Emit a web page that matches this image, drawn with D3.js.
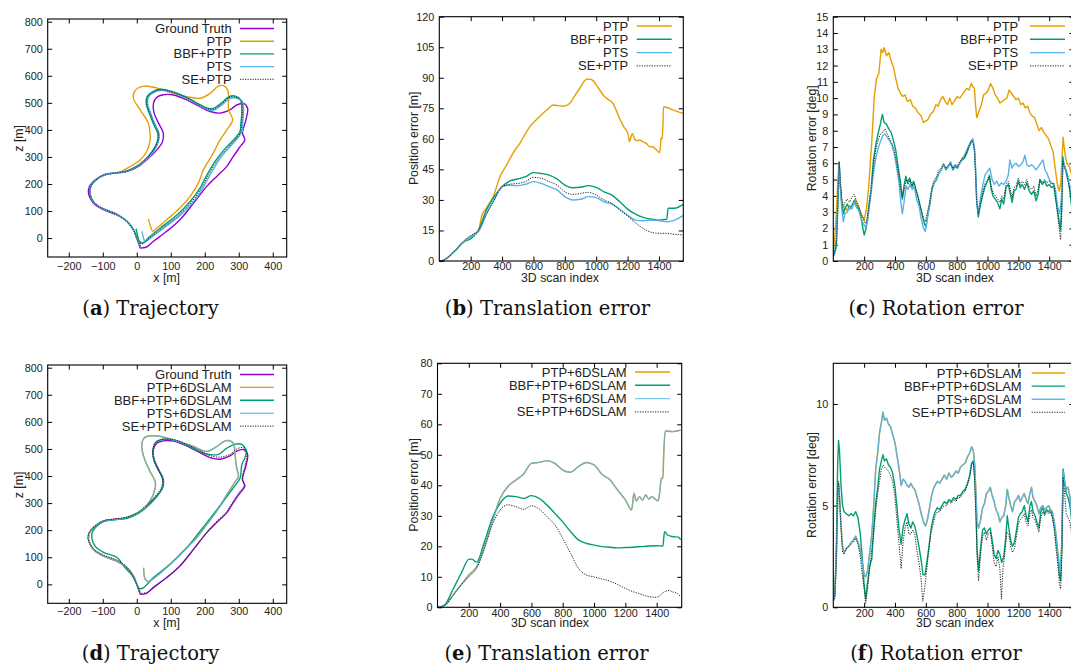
<!DOCTYPE html>
<html>
<head>
<meta charset="utf-8">
<script src="https://cdn.jsdelivr.net/npm/d3@7"></script>
<style>
  body { margin: 0; background: #fff; }
  svg { display: block; }
  .tick text { font-family: "Liberation Sans", Arial, sans-serif; font-size: 10.8px; fill: #222; }
  .tick line { stroke: #000; stroke-width: 1; }
  .lbl { font-family: "Liberation Sans", Arial, sans-serif; font-size: 12.3px; fill: #222; }
  .leg { font-family: "Liberation Sans", Arial, sans-serif; font-size: 13px; fill: #222; }
  .cap { font-family: "DejaVu Serif", serif; font-size: 19.5px; fill: #111; }
</style>
</head>
<body>
<script>
var width = 1071
var height = 668

// colours (gnuplot default palette)
var cGT = "#9400d3", cPTP = "#e69f00", cBBF = "#009e73", cPTS = "#56b4e9", cSE = "#222"

// ---- trajectory (x, z) in metres ----
var gtTraj = [[10,-37],[0,0],[-10,31],[-29,62],[-59,86],[-98,105],[-127,129],[-142,166],[-139,191],[-123,215],[-98,234],[-69,240],[-29,246],[5,265],[29,289],[59,326],[76,357],[78,388],[64,425],[51,462],[49,498],[59,521],[78,530],[108,529],[147,511],[186,486],[216,468],[245,462],[274,474],[294,492],[314,498],[326,480],[321,437],[311,388],[318,363],[304,338],[284,302],[265,265],[235,228],[206,191],[167,129],[127,68],[88,25],[49,-12],[29,-33],[10,-37]]
var ptpTraj = [[10,-30],[0,0],[-10,31],[-29,62],[-59,88],[-98,108],[-125,130],[-138,166],[-135,192],[-120,215],[-96,233],[-69,240],[-49,245],[-29,258],[10,289],[29,320],[39,360],[39,388],[34,425],[10,474],[-10,517],[-5,545],[20,562],[59,555],[98,538],[147,523],[186,517],[216,535],[240,562],[258,562],[268,545],[270,523],[270,474],[282,437],[265,400],[245,363],[225,314],[196,252],[181,203],[157,154],[127,111],[88,68],[59,37],[47,25],[40,45],[34,71]]
var bbfTraj = [[10,-30],[0,0],[-10,31],[-29,62],[-59,88],[-98,108],[-125,130],[-138,166],[-135,192],[-120,215],[-96,233],[-69,240],[-35,246],[-5,262],[20,285],[45,320],[60,355],[62,385],[50,420],[38,458],[28,495],[30,522],[45,540],[70,550],[108,540],[147,520],[186,493],[220,478],[250,500],[270,522],[290,525],[305,512],[309,470],[306,420],[304,395],[290,370],[265,338],[235,292],[206,233],[186,185],[157,135],[118,85],[69,37],[35,2],[18,-18],[8,-12],[3,5],[-2,35]]
var ptsTraj = [[10,-30],[0,0],[-10,31],[-29,62],[-59,88],[-98,108],[-125,130],[-138,166],[-135,192],[-120,215],[-96,233],[-69,240],[-35,245],[-4,260],[22,283],[48,318],[63,353],[66,385],[54,420],[42,458],[32,495],[34,520],[48,537],[72,546],[108,537],[147,516],[186,489],[222,472],[252,494],[272,515],[292,518],[310,505],[314,465],[311,420],[310,395],[297,370],[272,335],[243,290],[214,230],[194,183],[165,132],[126,82],[78,36],[40,0],[24,-14],[20,0],[15,25]]
var seTraj = [[10,-30],[0,0],[-10,31],[-29,62],[-59,88],[-98,108],[-125,130],[-138,166],[-135,192],[-120,215],[-96,233],[-69,240],[-35,246],[-4,261],[21,284],[46,319],[61,354],[64,385],[52,420],[40,458],[30,495],[32,521],[46,539],[71,548],[108,538],[147,518],[186,491],[221,475],[251,497],[271,519],[291,521],[307,509],[311,467],[308,420],[307,395],[294,370],[269,336],[239,291],[210,231],[190,184],[161,133],[122,83],[74,36],[38,0],[22,-18],[12,-22],[10,-15]]

// trajectories with 6DSLAM
var ptsSlamTraj = [[10,-37],[0,0],[-10,31],[-29,62],[-59,86],[-98,105],[-127,129],[-142,166],[-139,191],[-123,215],[-98,234],[-59,239],[-20,252],[10,270],[39,307],[54,356],[54,380],[39,417],[22,466],[15,503],[18,534],[29,546],[59,548],[108,534],[167,509],[206,491],[235,509],[265,531],[284,521],[289,479],[294,429],[299,399],[284,368],[265,331],[235,270],[206,221],[176,172],[137,123],[98,74],[59,31],[34,10],[25,18],[20,61]]
var ptpSlamTraj = ptsSlamTraj
var bbfSlamTraj = [[10,-30],[0,0],[-15,35],[-35,62],[-59,100],[-98,118],[-122,140],[-132,170],[-130,195],[-118,215],[-98,232],[-59,240],[-29,244],[5,262],[35,292],[62,330],[76,360],[76,390],[62,425],[50,462],[48,498],[56,525],[78,536],[108,533],[147,514],[186,490],[216,479],[240,480],[265,503],[290,518],[310,516],[322,495],[319,470],[309,442],[304,393],[284,356],[255,307],[225,258],[186,196],[147,135],[98,74],[49,25],[20,-12],[10,-16],[5,-12]]
var seSlamTraj = [[10,-35],[0,0],[-12,32],[-30,64],[-59,90],[-98,108],[-128,132],[-143,168],[-140,192],[-122,216],[-96,235],[-65,242],[-29,248],[3,266],[28,292],[57,330],[73,360],[75,390],[62,426],[49,462],[47,500],[57,525],[78,536],[108,534],[147,517],[186,493],[216,475],[245,470],[274,480],[294,500],[316,505],[324,485],[319,440],[310,390],[315,365],[300,338],[280,300],[262,265],[232,228],[204,190],[165,128],[126,68],[88,25],[49,-10],[29,-30],[12,-33]]

// ---- translation error [m] vs scan index ----
var posPTP = [[0,0],[25,0.3],[50,1.5],[100,5],[150,9],[200,12],[250,15],[270,22],[300,26],[343,31.6],[390,42],[428,47],[470,53],[513,57.8],[577,66],[640,71],[690,74.5],[725,76.6],[760,76.3],[789,76],[831,77.4],[870,82],[895,84.8],[920,88],[941,89.4],[965,89.2],[980,88.6],[1000,86.5],[1022,84],[1050,81],[1075,79.4],[1107,77.4],[1130,73.5],[1149,70],[1175,66],[1202,62.7],[1213,58.6],[1222,61],[1230,62.7],[1245,59.8],[1260,59],[1276,59.4],[1300,58.5],[1319,57.8],[1340,56.2],[1361,56],[1382,54.8],[1404,53.2],[1410,57],[1414,60.6],[1420,60],[1425,66],[1429,75.8],[1446,75.5],[1489,74.2],[1553,72.5]]
var posBBF = [[0,0],[25,0.3],[50,1.5],[100,5],[150,9],[200,11],[250,15.2],[300,25],[350,31.6],[400,36.5],[450,39.3],[500,40.3],[550,41.4],[600,43.4],[650,43],[700,42.2],[750,40.3],[800,37.3],[850,36],[900,36.2],[950,37],[1000,36.2],[1050,34],[1100,32.4],[1150,29.1],[1200,25.5],[1250,23],[1300,21.4],[1350,20.5],[1400,20.1],[1450,20.5],[1458,25.9],[1500,25.9],[1553,27.8]]
var posPTS = [[0,0],[25,0.3],[50,1.5],[100,5],[150,9],[200,12],[250,14.5],[300,23],[350,30],[400,36.5],[450,37.2],[500,37],[550,37.7],[600,39],[650,38.1],[700,36.5],[750,34.9],[800,31.6],[850,30],[900,30.3],[950,31.6],[1000,31.1],[1050,29.1],[1100,28],[1150,25.4],[1200,22.6],[1250,20.1],[1300,19.8],[1350,20.1],[1400,19.8],[1450,19.3],[1500,20.1],[1553,22.3]]
var posSE = [[0,0],[25,0.3],[50,1.5],[100,5],[150,9.5],[200,12.5],[250,15],[300,23],[350,30],[400,36.5],[450,37.7],[500,38.1],[550,39],[600,41.1],[650,40.6],[700,39],[750,37.3],[800,34],[850,32.7],[900,33.2],[950,33.7],[1000,32.4],[1050,30],[1100,28.3],[1150,25],[1200,22.1],[1250,18.8],[1300,16],[1350,14.1],[1400,13.6],[1450,13.6],[1500,13.1],[1553,12.8]]

// with 6DSLAM
var posPTSslam = [[0,0],[25,0.2],[50,0.8],[100,4],[150,7.3],[200,10.6],[250,13.3],[300,19.9],[350,28],[400,35.7],[450,39.6],[500,41.7],[550,43.7],[600,47.2],[650,47.5],[700,48.1],[750,47.2],[800,45],[850,44.3],[900,46.1],[950,47.5],[1000,46.7],[1050,43.6],[1100,41.9],[1150,38.5],[1200,35.2],[1240,31.9],[1255,37.4],[1270,34.9],[1290,36.3],[1310,35.2],[1330,36.8],[1350,35.5],[1370,36.3],[1390,35.5],[1410,34.9],[1420,37.9],[1430,42.3],[1440,42.3],[1445,50],[1455,57.8],[1500,57.6],[1553,58.1]]
var posPTPslam = posPTSslam
var posBBFslam = [[0,0],[25,0.2],[50,1],[100,6],[150,11],[200,15.7],[220,15.8],[250,14.8],[300,21.5],[350,29.2],[400,34.1],[450,36.5],[500,36.3],[550,35.7],[600,36.6],[650,35.7],[700,33.5],[750,30.8],[800,28],[850,24.8],[900,22.1],[950,21],[1000,20.4],[1050,19.9],[1100,19.7],[1150,19.5],[1200,19.6],[1250,19.7],[1300,19.9],[1350,20.1],[1400,20.2],[1440,20.1],[1450,24.8],[1470,23.7],[1500,23.2],[1540,23],[1553,22.1]]
var posSEslam = [[0,0],[25,0.2],[50,0.8],[100,4],[150,7.3],[200,10],[250,12.8],[300,19.3],[350,27],[400,31.9],[450,33.6],[500,33],[550,32.1],[600,33.3],[650,32.2],[700,29.7],[750,27],[800,22.6],[850,17.7],[900,12.8],[950,10.6],[1000,10],[1050,9.3],[1100,8.6],[1150,7.5],[1200,6.2],[1250,5.1],[1300,4.3],[1350,3.5],[1400,3.3],[1450,5.1],[1480,5.5],[1500,5.1],[1530,4.6],[1553,3.5]]

// ---- rotation error [deg] vs scan index ----
var rotPTP = [[0,0.5],[10,1.5],[20,3],[30,5],[38,6.1],[45,4.8],[55,3.5],[65,2.9],[75,3.3],[90,3.1],[105,3.4],[120,3.2],[140,3.8],[160,3.4],[180,2.9],[200,2.5],[215,3.2],[230,4.6],[250,7.4],[265,10],[280,11.2],[295,11.5],[310,13.0],[320,12.8],[330,13.1],[345,12.6],[360,12.8],[375,12.3],[390,11.9],[405,11.2],[420,10.6],[435,10.3],[450,10.1],[465,10.2],[480,9.8],[500,9.9],[515,9.5],[530,9.4],[550,9.1],[570,8.9],[585,8.5],[600,8.6],[615,8.7],[630,9.0],[650,9.2],[665,9.6],[680,9.5],[695,9.9],[710,10.1],[725,9.8],[740,9.6],[755,10],[770,9.6],[790,9.9],[805,10.1],[820,10.0],[835,10.2],[850,10.4],[865,10.6],[880,10.5],[895,10.9],[905,10.7],[915,10.6],[922,9.6],[930,8.8],[945,9.2],[960,9.6],[975,10.2],[990,10.3],[1005,10.5],[1020,10.9],[1035,10.6],[1050,10.2],[1065,10.0],[1080,9.7],[1095,9.8],[1110,9.9],[1125,10.0],[1140,10.5],[1155,10.3],[1170,10.1],[1185,9.9],[1200,10.0],[1215,9.6],[1230,9.7],[1245,9.4],[1260,9.5],[1275,9.1],[1290,8.9],[1305,8.8],[1320,8.4],[1335,8.0],[1350,8.2],[1365,7.9],[1380,7.7],[1395,7.5],[1410,7.1],[1425,6.7],[1440,5.6],[1455,4.6],[1465,4.3],[1475,4.8],[1483,6.2],[1490,7.6],[1497,7.0],[1505,6.4],[1515,6.0],[1530,5.8],[1545,5.3],[1555,5.0]]
var rotBBF = [[0,0.3],[10,0.5],[20,0.9],[30,3.5],[38,6.0],[45,4.8],[55,3.6],[65,2.9],[75,3.2],[90,3.5],[105,3.2],[120,3.4],[135,3.7],[150,3.4],[165,3.2],[180,2.7],[192,2.0],[200,1.6],[210,1.9],[220,2.5],[232,3.5],[245,4.4],[260,6.2],[275,7.1],[290,7.8],[305,8.4],[318,9.0],[330,8.5],[345,8.4],[360,8.1],[375,7.9],[390,7.4],[405,6.8],[420,5.8],[435,4.9],[448,3.8],[458,4.6],[470,5.2],[482,4.8],[495,5.1],[508,4.5],[520,4.9],[535,4.4],[548,4.0],[560,3.5],[575,2.9],[590,2.3],[600,2.1],[612,2.8],[625,3.4],[640,4.4],[655,4.8],[670,5.0],[685,5.4],[700,5.6],[715,5.9],[730,5.6],[745,5.8],[760,6.0],[775,5.6],[790,5.8],[805,5.7],[820,6.0],[835,6.2],[850,6.3],[865,6.6],[880,7.0],[895,7.3],[905,7.4],[915,6.9],[922,5.6],[930,3.7],[940,2.7],[955,3.5],[970,4.1],[985,4.6],[1000,4.9],[1012,5.2],[1022,4.5],[1035,4.0],[1050,3.8],[1065,3.6],[1080,3.2],[1092,3.8],[1105,3.5],[1120,4.5],[1135,4.7],[1148,4.1],[1160,3.6],[1172,4.3],[1185,4.4],[1200,4.9],[1212,4.5],[1225,4.7],[1240,4.4],[1255,4.8],[1270,4.3],[1285,4.1],[1300,4.3],[1315,3.7],[1328,4.1],[1340,5.0],[1355,4.7],[1370,4.9],[1385,4.6],[1400,4.7],[1415,4.5],[1430,4.6],[1442,3.8],[1455,3.0],[1465,2.4],[1472,1.9],[1480,3.2],[1488,6.4],[1496,5.9],[1508,5.6],[1520,5.2],[1535,4.2],[1548,3.1],[1555,2.8]]
var rotPTS = [[0,0.3],[10,0.6],[20,1.5],[30,4.0],[38,6.0],[45,4.6],[55,3.2],[65,2.4],[75,2.9],[90,3.0],[105,3.3],[120,3.2],[135,3.6],[150,3.3],[165,3.1],[180,2.6],[195,2.3],[208,2.1],[220,2.3],[232,3.2],[245,4.2],[260,5.4],[275,6.3],[290,6.9],[305,7.3],[320,7.7],[335,7.8],[350,7.6],[365,7.4],[380,7.1],[395,6.6],[410,5.8],[425,4.9],[438,3.6],[448,2.9],[460,3.7],[472,4.6],[485,4.4],[498,4.7],[512,4.4],[525,4.6],[540,3.8],[555,3.4],[570,2.6],[585,2.0],[597,1.8],[610,2.6],[625,3.6],[640,4.5],[655,4.8],[670,5.1],[685,5.4],[700,5.6],[715,5.9],[730,5.7],[745,5.8],[760,6.1],[775,5.7],[790,5.9],[805,5.8],[820,6.0],[835,6.3],[850,6.5],[865,6.8],[880,7.1],[895,7.4],[905,7.5],[915,7.0],[922,5.8],[930,3.5],[940,3.0],[955,3.9],[970,4.7],[985,5.3],[1000,5.5],[1015,5.7],[1030,5.0],[1045,4.7],[1060,4.9],[1075,4.6],[1090,4.8],[1105,4.7],[1120,4.9],[1135,5.3],[1145,6.2],[1158,5.7],[1170,5.9],[1185,6.0],[1200,5.8],[1215,5.9],[1230,6.1],[1242,6.5],[1255,5.9],[1270,5.8],[1285,5.9],[1300,5.8],[1315,5.6],[1330,5.8],[1345,6.0],[1360,6.2],[1372,5.6],[1385,5.4],[1400,5.0],[1415,4.8],[1430,4.7],[1442,4.3],[1455,3.3],[1468,2.9],[1478,3.8],[1488,5.7],[1496,6.0],[1508,5.5],[1520,5.0],[1535,4.6],[1548,4.4],[1555,4.2]]
var rotSE = [[0,0.3],[10,0.6],[20,1.2],[30,3.8],[38,6.1],[45,4.9],[55,3.8],[65,3.3],[75,3.6],[90,3.8],[105,3.6],[120,3.9],[135,4.1],[150,3.7],[165,3.4],[180,2.9],[195,2.6],[208,2.3],[220,2.6],[232,3.4],[245,4.3],[260,5.8],[275,6.8],[290,7.4],[305,7.8],[320,7.9],[335,8.1],[350,7.8],[365,7.5],[380,7.2],[395,6.8],[410,6.1],[425,5.2],[438,4.3],[448,3.9],[460,4.4],[472,5.0],[485,4.7],[498,5.0],[512,4.6],[525,4.8],[540,4.2],[555,3.7],[570,3.1],[585,2.6],[597,2.4],[610,3.0],[625,3.6],[640,4.5],[655,5.0],[670,5.2],[685,5.6],[700,5.7],[715,6.0],[730,5.7],[745,5.9],[760,6.0],[775,5.7],[790,5.9],[805,5.8],[820,6.1],[835,6.3],[850,6.4],[865,6.7],[880,7.1],[895,7.4],[905,7.3],[915,6.8],[922,5.5],[930,3.6],[940,2.9],[955,3.6],[970,4.3],[985,4.8],[1000,5.0],[1012,5.3],[1022,4.7],[1035,4.2],[1050,4.0],[1065,3.8],[1080,3.6],[1092,4.0],[1105,3.8],[1120,4.7],[1135,4.9],[1148,4.4],[1160,3.9],[1172,4.5],[1185,4.6],[1200,5.1],[1212,4.7],[1225,4.9],[1240,4.7],[1255,5.0],[1270,4.5],[1285,4.4],[1300,4.6],[1315,4.0],[1328,4.4],[1340,5.0],[1355,4.8],[1370,5.0],[1385,4.8],[1400,4.9],[1415,4.7],[1430,4.8],[1442,3.9],[1455,2.8],[1465,2.0],[1474,1.3],[1482,3.0],[1488,6.1],[1496,5.8],[1508,5.5],[1520,5.0],[1535,4.3],[1548,3.6],[1555,3.2]]

// with 6DSLAM
var rotPTSslam = [[0,0.3],[10,0.6],[20,2.5],[28,5.2],[34,6.1],[40,5.5],[50,4.0],[60,3.0],[70,2.7],[85,2.9],[100,3.0],[115,3.2],[130,3.3],[145,3.5],[160,3.2],[175,2.8],[188,2.2],[200,1.6],[210,1.5],[222,1.8],[235,2.6],[250,3.6],[262,5.0],[275,6.8],[288,7.6],[300,8.6],[312,9.1],[322,9.6],[332,9.2],[345,9.3],[358,9.0],[370,8.9],[385,8.5],[400,8.1],[412,7.5],[425,6.9],[440,6.0],[452,6.3],[465,6.2],[478,6.0],[490,5.9],[503,6.1],[515,5.9],[528,5.8],[540,5.5],[555,5.1],[570,4.6],[585,4.2],[598,4.0],[610,4.3],[622,4.8],[635,5.4],[648,5.8],[660,6.0],[675,6.2],[690,6.1],[705,6.3],[720,6.5],[735,6.3],[750,6.6],[765,6.4],[780,6.5],[795,6.7],[810,6.6],[825,6.9],[840,7.0],[855,7.1],[870,7.4],[885,7.6],[897,7.9],[908,7.7],[917,7.0],[925,5.6],[932,4.2],[942,3.9],[955,4.3],[968,4.9],[980,5.1],[993,5.6],[1005,5.7],[1018,5.9],[1030,5.5],[1043,5.2],[1055,4.8],[1068,4.6],[1080,4.2],[1092,4.4],[1105,4.5],[1118,5.0],[1128,5.8],[1138,5.4],[1150,5.0],[1162,4.7],[1175,5.2],[1188,5.3],[1200,5.5],[1212,5.2],[1225,5.4],[1238,5.6],[1250,5.3],[1262,5.1],[1275,5.6],[1285,5.9],[1295,5.4],[1308,5.2],[1320,5.0],[1333,4.6],[1345,4.9],[1358,5.0],[1370,4.8],[1383,4.9],[1395,5.0],[1408,4.8],[1420,4.7],[1433,4.2],[1445,3.5],[1457,2.6],[1466,2.0],[1474,1.9],[1482,3.3],[1490,6.7],[1498,6.2],[1510,5.8],[1522,5.9],[1535,5.4],[1545,4.5],[1555,3.9]]
var rotPTPslam = rotPTSslam
var rotBBFslam = [[0,0.3],[10,0.6],[20,3.0],[28,7.0],[34,8.2],[40,7.7],[50,6.0],[60,5.0],[70,4.7],[85,4.6],[100,4.5],[115,4.6],[130,4.5],[145,4.7],[160,4.4],[175,3.6],[188,2.4],[200,1.1],[210,0.4],[222,1.2],[235,2.0],[250,2.4],[262,3.9],[275,5.1],[288,5.9],[300,6.8],[312,7.2],[322,7.5],[332,7.2],[345,7.3],[358,7.0],[370,6.9],[385,6.6],[400,5.9],[412,5.0],[425,3.9],[440,3.1],[452,3.9],[465,4.3],[478,4.6],[490,4.1],[503,3.9],[515,4.2],[528,4.0],[540,3.6],[555,3.0],[570,2.3],[582,1.6],[595,1.6],[608,2.3],[622,3.1],[635,3.9],[648,4.4],[660,4.7],[675,4.9],[690,4.8],[705,5.0],[720,5.2],[735,5.1],[750,5.3],[765,5.2],[780,5.4],[795,5.3],[810,5.5],[825,5.5],[840,5.7],[855,5.8],[870,6.1],[885,6.5],[897,7.1],[908,7.2],[917,6.4],[925,4.8],[932,2.9],[942,1.8],[955,2.9],[968,3.8],[980,3.9],[993,3.6],[1005,3.8],[1018,3.9],[1030,3.3],[1043,2.6],[1055,2.4],[1068,2.8],[1080,2.6],[1092,2.2],[1105,2.5],[1118,3.4],[1128,4.5],[1138,3.9],[1150,3.3],[1162,3.0],[1175,3.2],[1188,3.8],[1200,4.4],[1212,4.6],[1225,4.7],[1238,5.0],[1250,4.5],[1262,4.2],[1275,5.0],[1285,5.2],[1295,4.7],[1308,4.5],[1320,4.2],[1333,3.9],[1345,4.7],[1358,4.9],[1370,4.6],[1383,4.8],[1395,4.7],[1408,4.8],[1420,4.5],[1433,4.0],[1445,3.2],[1457,2.4],[1466,1.6],[1474,1.3],[1482,2.9],[1490,6.8],[1498,6.3],[1510,5.6],[1522,5.4],[1535,5.0],[1545,4.3],[1555,3.7]]
var rotSEslam = [[0,0.3],[10,0.5],[20,2.4],[28,5.6],[34,6.2],[40,5.4],[50,3.9],[60,2.7],[70,2.6],[85,2.9],[100,3.0],[115,3.1],[130,3.2],[145,3.4],[160,3.1],[175,2.5],[188,1.6],[200,0.9],[210,0.2],[222,0.9],[235,1.8],[250,2.9],[262,3.6],[275,4.8],[288,5.6],[300,6.2],[312,6.8],[322,7.0],[332,6.9],[345,6.8],[358,6.7],[370,6.5],[385,6.2],[400,5.4],[412,4.3],[425,3.2],[440,1.9],[452,3.2],[465,3.9],[478,4.2],[490,3.6],[503,3.6],[515,3.8],[528,3.6],[540,2.9],[555,2.2],[568,1.5],[580,0.3],[592,0.9],[605,1.8],[618,2.7],[632,3.6],[645,4.0],[660,4.5],[675,4.7],[690,4.7],[705,4.9],[720,5.0],[735,5.0],[750,5.2],[765,5.1],[780,5.3],[795,5.2],[810,5.4],[825,5.4],[840,5.6],[855,5.7],[870,6.0],[885,6.4],[897,7.0],[908,7.1],[917,6.2],[925,4.5],[932,2.5],[942,1.3],[955,2.6],[968,3.5],[980,3.7],[993,3.3],[1005,3.6],[1018,3.7],[1030,3.0],[1043,2.2],[1055,2.0],[1068,2.5],[1080,1.9],[1090,0.4],[1100,1.9],[1112,2.6],[1125,3.7],[1138,3.6],[1150,3.0],[1162,2.7],[1175,2.9],[1188,3.5],[1200,4.1],[1212,4.3],[1225,4.4],[1238,4.6],[1250,4.2],[1262,4.0],[1275,4.6],[1285,4.8],[1295,4.4],[1308,4.3],[1320,4.0],[1333,3.7],[1345,4.4],[1358,4.7],[1370,4.5],[1383,4.7],[1395,4.6],[1408,4.7],[1420,4.4],[1433,3.8],[1445,2.8],[1457,2.0],[1466,1.2],[1474,0.9],[1482,2.5],[1490,6.4],[1498,5.8],[1510,4.6],[1522,4.4],[1535,4.2],[1545,3.6],[1555,3.3]]

// ticks
var trajXTicks = [-200, -100, 0, 100, 200, 300, 400]
var trajYTicks = [0, 100, 200, 300, 400, 500, 600, 700, 800]
var scanTicks = [200, 400, 600, 800, 1000, 1200, 1400]
var posTicksB = [0, 15, 30, 45, 60, 75, 90, 105, 120]
var rotTicksC = [0, 1, 2, 3, 4, 5, 6, 7, 8, 9, 10, 11, 12, 13, 14, 15]
var posTicksE = [0, 10, 20, 30, 40, 50, 60, 70, 80]
var rotTicksF = [0, 5, 10]

var svg = d3.select("body").append("svg")
  .attr("width", width)
  .attr("height", height)

var fmt = d3.format("d")

function panel(cfg) {
  var x = d3.scaleLinear().domain(cfg.xDomain).range([cfg.l, cfg.r])
  var y = d3.scaleLinear().domain(cfg.yDomain).range([cfg.b, cfg.t])
  var g = svg.append("g")
  var tick = 4.5

  g.append("g").attr("transform", "translate(0," + cfg.b + ")")
    .call(d3.axisBottom(x).tickValues(cfg.xTicks).tickFormat(fmt)
      .tickSize(-tick).tickSizeOuter(0).tickPadding(cfg.xPad))
  g.append("g").attr("transform", "translate(0," + cfg.t + ")")
    .call(d3.axisTop(x).tickValues(cfg.xTicks).tickSize(-tick).tickSizeOuter(0).tickFormat(""))
  g.append("g").attr("transform", "translate(" + cfg.l + ",0)")
    .call(d3.axisLeft(y).tickValues(cfg.yTicks).tickFormat(fmt)
      .tickSize(-tick).tickSizeOuter(0).tickPadding(5))
  g.append("g").attr("transform", "translate(" + cfg.r + ",0)")
    .call(d3.axisRight(y).tickValues(cfg.yTicks).tickSize(-tick).tickSizeOuter(0).tickFormat(""))
  g.selectAll(".domain").remove()

  var clipId = "clip" + cfg.id
  svg.append("clipPath").attr("id", clipId)
    .append("rect").attr("x", cfg.l).attr("y", cfg.t)
    .attr("width", cfg.r - cfg.l).attr("height", cfg.b - cfg.t)

  var line = d3.line()
    .x(function (d) { return x(d[0]) })
    .y(function (d) { return y(d[1]) })
    .curve(cfg.curve || d3.curveLinear)

  g.append("g").attr("clip-path", "url(#" + clipId + ")")
    .selectAll("path")
    .data(cfg.series)
    .enter().append("path")
    .attr("d", function (d) { return line(d.data) })
    .attr("fill", "none")
    .attr("stroke", function (d) { return d.color })
    .attr("stroke-width", function (d) { return d.dash ? 1 : 1.4 })
    .attr("stroke-dasharray", function (d) { return d.dash ? "1.2,1.3" : null })
    .attr("stroke-opacity", function (d) { return d.opacity || 1 })
    .attr("stroke-linejoin", "round")

  // frame
  g.append("rect")
    .attr("x", cfg.l).attr("y", cfg.t)
    .attr("width", cfg.r - cfg.l).attr("height", cfg.b - cfg.t)
    .attr("fill", "none").attr("stroke", "#000").attr("stroke-width", 1.1)

  // legend
  var leg = g.selectAll(".legrow")
    .data(cfg.series.filter(function (d) { return d.name }))
    .enter().append("g")
    .attr("transform", function (d, i) { return "translate(0," + (cfg.legY + i * cfg.legStep) + ")" })
  leg.append("text").attr("class", "leg")
    .attr("x", cfg.legText).attr("text-anchor", "end").attr("dy", "0.35em")
    .text(function (d) { return d.name })
  leg.append("line")
    .attr("x1", cfg.legLine[0]).attr("x2", cfg.legLine[1])
    .attr("stroke", function (d) { return d.color })
    .attr("stroke-width", function (d) { return d.dash ? 1 : 1.4 })
    .attr("stroke-dasharray", function (d) { return d.dash ? "1.2,1.3" : null })
    .attr("stroke-opacity", function (d) { return d.opacity || 1 })

  // axis labels
  g.append("text").attr("class", "lbl")
    .attr("x", cfg.xLab[0]).attr("y", cfg.xLab[1])
    .attr("text-anchor", "middle").attr("dy", "0.35em")
    .text(cfg.xLabel)
  g.append("text").attr("class", "lbl")
    .attr("transform", "translate(" + cfg.yLab[0] + "," + cfg.yLab[1] + ") rotate(-90)")
    .attr("text-anchor", "middle").attr("dy", "0.35em")
    .text(cfg.yLabel)

  // caption
  var cap = g.append("text").attr("class", "cap")
    .attr("x", cfg.cap[0]).attr("y", cfg.cap[1]).attr("text-anchor", "middle")
  cap.append("tspan").text("(")
  cap.append("tspan").attr("font-weight", "bold").text(cfg.letter)
  cap.append("tspan").text(") " + cfg.title)
}

var trajCurve = d3.curveCatmullRom.alpha(0.5)

panel({
  id: "a", l: 47.7, r: 286.7, t: 19, b: 257, xPad: 5,
  xDomain: [-262, 441], yDomain: [-70, 810], xTicks: trajXTicks, yTicks: trajYTicks,
  curve: trajCurve,
  series: [
    { name: "Ground Truth", data: gtTraj, color: cGT },
    { name: "PTP", data: ptpTraj, color: cPTP },
    { name: "BBF+PTP", data: bbfTraj, color: cBBF },
    { name: "PTS", data: ptsTraj, color: cPTS },
    { name: "SE+PTP", data: seTraj, color: cSE, dash: true }
  ],
  legY: 28.5, legStep: 12.7, legText: 231.7, legLine: [240, 274],
  xLabel: "x [m]", xLab: [166.7, 277.5], yLabel: "z [m]", yLab: [18.3, 138.3],
  cap: [150.5, 315], letter: "a", title: "Trajectory"
})

panel({
  id: "b", l: 439.3, r: 683.3, t: 16.7, b: 261, xPad: 1.5,
  xDomain: [0, 1555], yDomain: [0, 120], xTicks: scanTicks, yTicks: posTicksB,
  curve: d3.curveMonotoneX,
  series: [
    { name: "PTP", data: posPTP, color: cPTP },
    { name: "BBF+PTP", data: posBBF, color: cBBF },
    { name: "PTS", data: posPTS, color: cPTS },
    { name: "SE+PTP", data: posSE, color: cSE, dash: true }
  ],
  legY: 26, legStep: 13.3, legText: 628.3, legLine: [636.7, 671.7],
  xLabel: "3D scan index", xLab: [560, 278], yLabel: "Position error [m]", yLab: [413.3, 138.3],
  cap: [547.5, 315], letter: "b", title: "Translation error"
})

panel({
  id: "c", l: 833.3, r: 1073.9, t: 16.7, b: 261, xPad: 1.5,
  xDomain: [0, 1560], yDomain: [0, 15], xTicks: scanTicks, yTicks: rotTicksC,
  series: [
    { name: "PTP", data: rotPTP, color: cPTP },
    { name: "BBF+PTP", data: rotBBF, color: cBBF },
    { name: "PTS", data: rotPTS, color: cPTS },
    { name: "SE+PTP", data: rotSE, color: cSE, dash: true }
  ],
  legY: 26, legStep: 13.3, legText: 1018.3, legLine: [1030, 1065],
  xLabel: "3D scan index", xLab: [955, 278], yLabel: "Rotation error [deg]", yLab: [811.7, 138.3],
  cap: [936, 315], letter: "c", title: "Rotation error"
})

panel({
  id: "d", l: 47.7, r: 286.7, t: 365, b: 603.3, xPad: 4,
  xDomain: [-262, 441], yDomain: [-70, 810], xTicks: trajXTicks, yTicks: trajYTicks,
  curve: trajCurve,
  series: [
    { name: "Ground Truth", data: gtTraj, color: cGT },
    { name: "PTP+6DSLAM", data: ptpSlamTraj, color: cPTP },
    { name: "BBF+PTP+6DSLAM", data: bbfSlamTraj, color: cBBF },
    { name: "PTS+6DSLAM", data: ptsSlamTraj, color: cPTS, opacity: 0.75 },
    { name: "SE+PTP+6DSLAM", data: seSlamTraj, color: cSE, dash: true }
  ],
  legY: 374.5, legStep: 12.9, legText: 231.7, legLine: [240, 274],
  xLabel: "x [m]", xLab: [166.7, 623], yLabel: "z [m]", yLab: [18.3, 485],
  cap: [150.5, 659.5], letter: "d", title: "Trajectory"
})

panel({
  id: "e", l: 437.5, r: 681.7, t: 363.3, b: 607.3, xPad: 2,
  xDomain: [0, 1560], yDomain: [0, 80], xTicks: scanTicks, yTicks: posTicksE,
  curve: d3.curveMonotoneX,
  series: [
    { name: "PTP+6DSLAM", data: posPTPslam, color: cPTP },
    { name: "BBF+PTP+6DSLAM", data: posBBFslam, color: cBBF },
    { name: "PTS+6DSLAM", data: posPTSslam, color: cPTS, opacity: 0.75 },
    { name: "SE+PTP+6DSLAM", data: posSEslam, color: cSE, dash: true }
  ],
  legY: 372, legStep: 13.3, legText: 626.7, legLine: [635, 670],
  xLabel: "3D scan index", xLab: [550, 623], yLabel: "Position error [m]", yLab: [414, 485],
  cap: [546.5, 659.5], letter: "e", title: "Translation error"
})

panel({
  id: "f", l: 833.3, r: 1073.9, t: 363.3, b: 607.3, xPad: 2,
  xDomain: [0, 1560], yDomain: [0, 12], xTicks: scanTicks, yTicks: rotTicksF,
  series: [
    { name: "PTP+6DSLAM", data: rotPTPslam, color: cPTP },
    { name: "BBF+PTP+6DSLAM", data: rotBBFslam, color: cBBF },
    { name: "PTS+6DSLAM", data: rotPTSslam, color: cPTS, opacity: 0.95 },
    { name: "SE+PTP+6DSLAM", data: rotSEslam, color: cSE, dash: true }
  ],
  legY: 373, legStep: 13.1, legText: 1021.7, legLine: [1031.7, 1065],
  xLabel: "3D scan index", xLab: [955, 623], yLabel: "Rotation error [deg]", yLab: [811.7, 485],
  cap: [936, 659.5], letter: "f", title: "Rotation error"
})
</script>
</body>
</html>
